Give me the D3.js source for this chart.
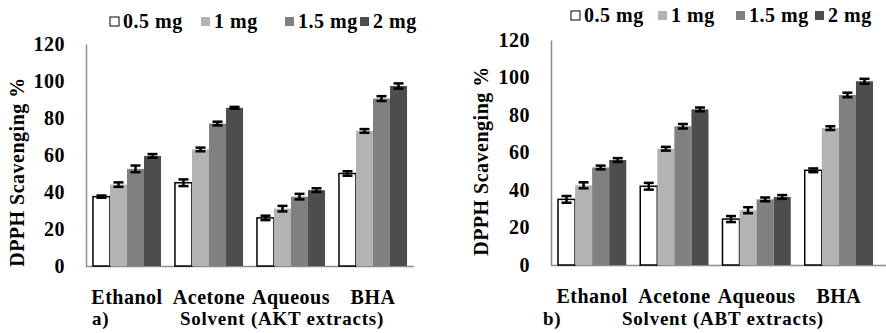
<!DOCTYPE html>
<html>
<head>
<meta charset="utf-8">
<script src="https://cdn.jsdelivr.net/npm/d3@7"></script>
<style>
  body { margin: 0; background: #fff; }
  text { font-family: "Liberation Serif", "Times New Roman", serif; font-weight: bold; fill: #000; letter-spacing: 0.5px; }
</style>
</head>
<body>
<div id="chart"></div>
<script>
// categories and series
const solvents = ['Ethanol', 'Acetone', 'Aqueous', 'BHA'];
const doses = ['0.5 mg', '1 mg', '1.5 mg', '2 mg'];
const yTicks = [0, 20, 40, 60, 80, 100, 120];

// panel a) AKT extracts, rows = solvent, cols = dose
const aktMeans = [
    [37.5, 44, 52.5, 59.5],
    [45, 63, 77, 85.5],
    [26, 31, 37.5, 41],
    [50, 73, 90.5, 97.3]
];
const aktErrors = [
    [0.6, 1.2, 1.8, 1.0],
    [1.8, 1.0, 1.0, 0.5],
    [1.2, 1.5, 1.5, 1.0],
    [1.2, 1.0, 1.3, 1.4]
];

// panel b) ABT extracts
const abtMeans = [
    [35, 42.5, 52, 56],
    [42, 62, 74, 83],
    [24.5, 29.2, 35, 36.3],
    [50.5, 73, 90.7, 98]
];
const abtErrors = [
    [1.8, 1.6, 1.0, 1.0],
    [1.8, 1.0, 1.2, 1.0],
    [1.6, 1.6, 1.0, 1.0],
    [1.0, 1.0, 1.2, 1.3]
];

const fills = ['#ffffff', '#b3b3b3', '#808080', '#4d4d4d'];

const svg = d3.select('#chart')
    .append('svg')
    .attr('width', 886)
    .attr('height', 333);

function drawPanel(cfg) {
    const x0 = d3.scaleBand()
        .domain(solvents)
        .range([cfg.left, cfg.right])
        .paddingInner(0.17)
        .paddingOuter(0.085);
    const x1 = d3.scaleBand()
        .domain(doses)
        .range([0, x0.bandwidth()]);
    const y = d3.scaleLinear()
        .domain([0, 120])
        .range([cfg.zero, cfg.top]);

    // y axis (labels only, grey line)
    const yAxis = svg.append('g')
        .attr('transform', `translate(${cfg.left},0)`)
        .call(d3.axisLeft(y).tickValues(yTicks).tickSize(0).tickPadding(21));
    yAxis.select('.domain').attr('stroke', '#8c8c8c').attr('stroke-width', 1.5);
    yAxis.selectAll('text')
        .attr('font-size', '20px')
        .attr('fill', '#000');

    // x axis baseline
    const xAxis = svg.append('g')
        .attr('transform', `translate(0,${cfg.zero})`)
        .call(d3.axisBottom(x0).tickSize(0).tickPadding(24).tickSizeOuter(0));
    xAxis.select('.domain')
        .attr('stroke', '#8c8c8c').attr('stroke-width', 1.5)
        .attr('d', `M${cfg.left},0.5H${cfg.axisEnd}`);
    xAxis.selectAll('text')
        .attr('font-size', '20px')
        .attr('fill', '#000');

    // bars
    const groups = svg.selectAll(null)
        .data(cfg.means)
        .enter()
        .append('g')
        .attr('transform', (d, i) => `translate(${x0(solvents[i])},0)`);

    groups.selectAll('rect')
        .data(d => d)
        .enter()
        .append('rect')
        .attr('x', (d, j) => x1(doses[j]))
        .attr('y', d => y(d))
        .attr('width', x1.bandwidth())
        .attr('height', d => cfg.zero - y(d))
        .attr('fill', (d, j) => fills[j])
        .attr('stroke', (d, j) => j === 0 ? '#000' : 'none')
        .attr('stroke-width', 1.5);

    // error bars
    groups.each(function (row, i) {
        const g = d3.select(this);
        row.forEach((m, j) => {
            const e = cfg.errors[i][j];
            const cx = x1(doses[j]) + x1.bandwidth() / 2;
            g.append('line')
                .attr('x1', cx).attr('x2', cx)
                .attr('y1', y(m + e)).attr('y2', y(m - e))
                .attr('stroke', '#000').attr('stroke-width', 2.5);
            [m + e, m - e].forEach(v => {
                g.append('line')
                    .attr('x1', cx - 5).attr('x2', cx + 5)
                    .attr('y1', y(v)).attr('y2', y(v))
                    .attr('stroke', '#000').attr('stroke-width', 2.5);
            });
        });
    });

    // y title
    svg.append('text')
        .attr('transform', `translate(${cfg.yTitleX},${cfg.yTitleY}) rotate(-90)`)
        .attr('text-anchor', 'middle')
        .attr('dy', '0.35em')
        .attr('font-size', '20px')
        .text('DPPH Scavenging %');

    // panel tag and x title
    svg.append('text')
        .attr('x', cfg.tagX)
        .attr('y', 325)
        .attr('font-size', '19px')
        .style('letter-spacing', '0.75px')
        .text(cfg.tag);
    svg.append('text')
        .attr('x', cfg.titleX)
        .attr('y', 325)
        .attr('text-anchor', 'middle')
        .attr('font-size', '19px')
        .style('letter-spacing', '0.75px')
        .text(cfg.title);

    // legend
    const leg = svg.append('g');
    doses.forEach((d, j) => {
        leg.append('rect')
            .attr('x', cfg.legX[j])
            .attr('y', cfg.legY - 11)
            .attr('width', 9)
            .attr('height', 9)
            .attr('fill', fills[j])
            .attr('stroke', j === 0 ? '#000' : 'none')
            .attr('stroke-width', 1);
        leg.append('text')
            .attr('x', cfg.legX[j] + 13)
            .attr('y', cfg.legY)
            .attr('font-size', '20px')
            .text(d);
    });
}

drawPanel({
    left: 86, right: 414, axisEnd: 414, zero: 266, top: 44,
    means: aktMeans, errors: aktErrors,
    yTitleX: 17, yTitleY: 172,
    tag: 'a)', tagX: 92, title: 'Solvent (AKT extracts)', titleX: 282,
    legX: [110, 201, 285, 360], legY: 28
});

drawPanel({
    left: 551, right: 880, axisEnd: 886, zero: 265, top: 40,
    means: abtMeans, errors: abtErrors,
    yTitleX: 481, yTitleY: 161,
    tag: 'b)', tagX: 543, title: 'Solvent (ABT extracts)', titleX: 723,
    legX: [571, 658, 736, 815], legY: 22
});
</script>
</body>
</html>
